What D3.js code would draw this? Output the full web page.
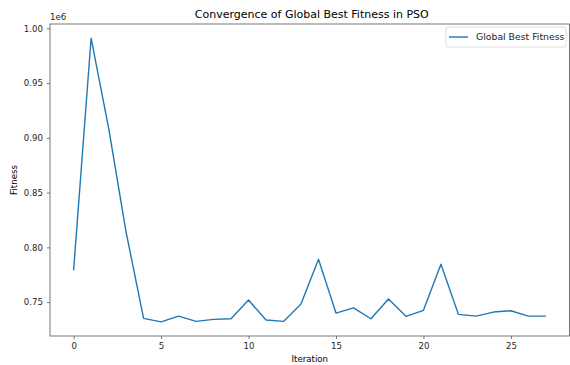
<!DOCTYPE html>
<html>
<head>
<meta charset="utf-8">
<script src="https://cdn.jsdelivr.net/npm/d3@7"></script>
<style>
  html, body { margin: 0; padding: 0; background: #fff; }
  svg { display: block; font-family: "DejaVu Sans", sans-serif; }
</style>
</head>
<body>
<svg id="chart" width="570" height="365"></svg>
<script>
// Global best fitness recorded at each PSO iteration (values in units of 1e6)
const iterations = d3.range(0, 28);
const bestFitness = [
  0.779, 0.991, 0.909, 0.814, 0.7351, 0.7320, 0.7372, 0.7324, 0.7342, 0.7348,
  0.7519, 0.7336, 0.7324, 0.7482, 0.7891, 0.7400, 0.7448, 0.7348, 0.7528, 0.7370,
  0.7425, 0.7845, 0.7388, 0.7372, 0.7409, 0.7421, 0.7372, 0.7372
];
const xTicks = [0, 5, 10, 15, 20, 25];
const yTicks = [0.75, 0.80, 0.85, 0.90, 0.95, 1.00];
const seriesName = "Global Best Fitness";
const titleText = "Convergence of Global Best Fitness in PSO";

const svg = d3.select("#chart");
const plot = { left: 50, right: 569.5, top: 24, bottom: 336 };
const lineColor = "#1f77b4";
const spineColor = "#555";
const textColor = "#262626";

// matplotlib-style 5% padding around the data range
const xMin = d3.min(iterations), xMax = d3.max(iterations);
const xPad = (xMax - xMin) * 0.05;
const yMin = d3.min(bestFitness), yMax = d3.max(bestFitness);
const yPad = (yMax - yMin) * 0.05;

const x = d3.scaleLinear().domain([xMin - xPad, xMax + xPad]).range([plot.left, plot.right]);
const y = d3.scaleLinear().domain([yMin - yPad, yMax + yPad]).range([plot.bottom, plot.top]);

// data line
const line = d3.line().x((d, i) => x(iterations[i])).y(d => y(d));
svg.append("path")
  .datum(bestFitness)
  .attr("d", line)
  .attr("fill", "none")
  .attr("stroke", lineColor)
  .attr("stroke-width", 1.4)
  .attr("stroke-linejoin", "round");

// axes
const xAxis = svg.append("g")
  .attr("transform", `translate(0,${plot.bottom})`)
  .call(d3.axisBottom(x).tickValues(xTicks).tickFormat(d3.format("d")).tickSize(3).tickPadding(4));
const yAxis = svg.append("g")
  .attr("transform", `translate(${plot.left},0)`)
  .call(d3.axisLeft(y).tickValues(yTicks).tickFormat(d3.format(".2f")).tickSize(3).tickPadding(4));

[xAxis, yAxis].forEach(g => {
  g.select(".domain").remove();
  g.selectAll(".tick line").attr("stroke", spineColor).attr("stroke-width", 0.8);
  g.selectAll(".tick text")
    .attr("fill", textColor)
    .style("font-family", "DejaVu Sans")
    .style("font-size", "8.6px");
});

// spines
svg.append("rect")
  .attr("x", plot.left).attr("y", plot.top)
  .attr("width", plot.right - plot.left).attr("height", plot.bottom - plot.top)
  .attr("fill", "none")
  .attr("stroke", spineColor)
  .attr("stroke-width", 0.8);

// offset label for the y scale
svg.append("text")
  .attr("x", plot.left).attr("y", plot.top - 4)
  .attr("fill", textColor)
  .style("font-size", "8.6px")
  .text("1e6");

// title
svg.append("text")
  .attr("x", (plot.left + plot.right) / 2 + 2).attr("y", plot.top - 6)
  .attr("text-anchor", "middle")
  .attr("fill", "#000")
  .style("font-size", "11px")
  .text(titleText);

// axis labels
svg.append("text")
  .attr("x", (plot.left + plot.right) / 2).attr("y", 362)
  .attr("text-anchor", "middle")
  .attr("fill", "#000")
  .style("font-size", "8.6px")
  .text("Iteration");
svg.append("text")
  .attr("transform", `translate(17,${(plot.top + plot.bottom) / 2}) rotate(-90)`)
  .attr("text-anchor", "middle")
  .attr("fill", "#000")
  .style("font-size", "8.6px")
  .text("Fitness");

// legend
const legend = svg.append("g").attr("transform", "translate(446,27)");
legend.append("rect")
  .attr("width", 120).attr("height", 20).attr("rx", 2)
  .attr("fill", "#fff").attr("fill-opacity", 0.8)
  .attr("stroke", "#d6d6d6").attr("stroke-width", 0.8);
legend.append("line")
  .attr("x1", 3).attr("x2", 22).attr("y1", 10).attr("y2", 10)
  .attr("stroke", lineColor).attr("stroke-width", 1.4);
legend.append("text")
  .attr("x", 30).attr("y", 13.4)
  .attr("fill", textColor)
  .style("font-size", "9.3px")
  .text(seriesName);
</script>
</body>
</html>
